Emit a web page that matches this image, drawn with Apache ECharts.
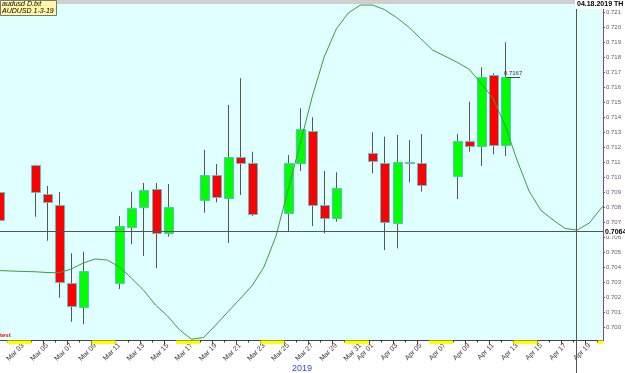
<!DOCTYPE html>
<html>
<head>
<meta charset="utf-8">
<script src="https://cdn.jsdelivr.net/npm/echarts@6/dist/echarts.min.js"></script>
<style>
html, body { margin: 0; padding: 0; background: #fff; }
#main { width: 625px; height: 373px; background: linear-gradient(to bottom, #cfcfcf 0, #cfcfcf 4px, #fff 4px); }
</style>
</head>
<body>
<div id="main"></div>
<script>
// trading days (daily bars)
const dates = ['2019-03-01', '2019-03-04', '2019-03-05', '2019-03-06', '2019-03-07', '2019-03-08',
  '2019-03-11', '2019-03-12', '2019-03-13', '2019-03-14', '2019-03-15',
  '2019-03-18', '2019-03-19', '2019-03-20', '2019-03-21', '2019-03-22',
  '2019-03-25', '2019-03-26', '2019-03-27', '2019-03-28', '2019-03-29',
  '2019-04-01', '2019-04-02', '2019-04-03', '2019-04-04', '2019-04-05',
  '2019-04-08', '2019-04-09', '2019-04-10', '2019-04-11', '2019-04-12']
const openP = [0.70907, 0.71085, 0.70889, 0.70818, 0.70296, 0.70136,
  0.70296, 0.70669, 0.70803, 0.70925, 0.70629,
  0.70849, 0.71018, 0.70863, 0.71136, 0.71096,
  0.70760, 0.71096, 0.71313, 0.70818, 0.70729,
  0.71167, 0.71096, 0.70703, 0.71103, 0.71096,
  0.71011, 0.71245, 0.71211, 0.71685, 0.71218]
const highP = [0.70910, 0.71087, 0.70945, 0.70905, 0.70496, 0.70507,
  0.70745, 0.70907, 0.70965, 0.70965, 0.70958,
  0.71185, 0.71091, 0.71485, 0.71663, 0.71173,
  0.71151, 0.71463, 0.71403, 0.71045, 0.71036,
  0.71303, 0.71273, 0.71285, 0.71251, 0.71291,
  0.71291, 0.71507, 0.71736, 0.71696, 0.71903]
const lowP = [0.70720, 0.70740, 0.70580, 0.70200, 0.70040, 0.70023,
  0.70258, 0.70556, 0.70478, 0.70396, 0.70607,
  0.70767, 0.70836, 0.70565, 0.70885, 0.70745,
  0.70640, 0.71045, 0.70678, 0.70629, 0.70707,
  0.71029, 0.70518, 0.70529, 0.70969, 0.70907,
  0.70858, 0.71173, 0.71078, 0.71156, 0.71145]
const closeP = [0.70723, 0.70903, 0.70833, 0.70303, 0.70143, 0.70376,
  0.70676, 0.70796, 0.70916, 0.70629, 0.70805,
  0.71018, 0.70871, 0.71136, 0.71098, 0.70758,
  0.71096, 0.71325, 0.70823, 0.70729, 0.70929,
  0.71111, 0.70703, 0.71107, 0.71100, 0.70951,
  0.71245, 0.71211, 0.71673, 0.71218, 0.71670]

// cycle line, one value per calendar day from 2019-03-01
const cycleStart = '2019-03-01'
const cycleValues = [0.70381, 0.70378, 0.70375, 0.70373, 0.70368, 0.70366, 0.70391, 0.70431,
  0.70458, 0.70451, 0.70405, 0.70331, 0.70251, 0.70151, 0.70078, 0.69985,
  0.69923, 0.69935, 0.70018, 0.70105, 0.70191, 0.70278, 0.70405, 0.70611,
  0.70918, 0.71225, 0.71538, 0.71805, 0.71991, 0.72098, 0.72151, 0.72151,
  0.72121, 0.72068, 0.72005, 0.71928, 0.71851, 0.71811, 0.71771, 0.71725,
  0.71631, 0.71531, 0.71351, 0.71118, 0.70911, 0.70781, 0.70718, 0.70661,
  0.70651, 0.70698, 0.70798, 0.70885]

// axis labels
const labelDates = ['2019-03-03', '2019-03-05', '2019-03-07', '2019-03-09', '2019-03-11', '2019-03-13',
  '2019-03-15', '2019-03-17', '2019-03-19', '2019-03-21', '2019-03-23', '2019-03-25',
  '2019-03-27', '2019-03-29', '2019-03-31', '2019-04-01', '2019-04-03', '2019-04-05',
  '2019-04-07', '2019-04-09', '2019-04-11', '2019-04-13', '2019-04-15', '2019-04-17', '2019-04-19']
const weekendStarts = ['2019-03-02', '2019-03-09', '2019-03-16', '2019-03-23', '2019-03-30',
  '2019-04-06', '2019-04-13', '2019-04-20']
const yTicks = [0.700, 0.701, 0.702, 0.703, 0.704, 0.705, 0.706, 0.707, 0.708, 0.709, 0.710,
  0.711, 0.712, 0.713, 0.714, 0.715, 0.716, 0.717, 0.718, 0.719, 0.720, 0.721]

const crossDate = '2019-04-18'
const crossPrice = 0.7064

const MONTHS = ['Jan', 'Feb', 'Mar', 'Apr', 'May', 'Jun', 'Jul', 'Aug', 'Sep', 'Oct', 'Nov', 'Dec']
const FONT = 'Liberation Sans, Arial, sans-serif'

const base = (() => { const p = cycleStart.split('-').map(Number); return Date.UTC(p[0], p[1] - 1, p[2]) })()
function dayIndex(s) {
  const p = s.split('-').map(Number)
  return Math.round((Date.UTC(p[0], p[1] - 1, p[2]) - base) / 86400000)
}
function fmtDate(s) {
  const p = s.split('-')
  return MONTHS[+p[1] - 1] + ' ' + p[2]
}

const xMin = 0.095
const xMax = 50.137
const yMin = 0.699147
const yMax = 0.72158

const candleData = dates.map((d, i) => [dayIndex(d), openP[i], closeP[i], lowP[i], highP[i]])
const cycleData = cycleValues.map((v, i) => [i, v])
const labelMap = {}
labelDates.forEach(d => { labelMap[dayIndex(d)] = fmtDate(d) })
const labelVals = labelDates.map(dayIndex)
const redTicks = labelVals.map(v => v - 0.3)
const dayTicks = cycleValues.map((v, i) => i - 0.3)
const lastIdx = dates.length - 1
const lastX = dayIndex(dates[lastIdx])

const chart = echarts.init(document.getElementById('main'))
const option = {
  animation: false,
  textStyle: { fontFamily: FONT },
  title: [
    {
      text: 'audusd D.txt\nAUDUSD 1-3-19', left: 0, top: 0, padding: [1, 3, 1, 2],
      backgroundColor: '#fff8a8', borderColor: '#777', borderWidth: 1,
      textStyle: { fontSize: 7, fontStyle: 'italic', fontWeight: 'normal', lineHeight: 7, color: '#000', fontFamily: FONT }
    },
    {
      text: '04.18.2019 TH', left: 575, top: 0, padding: [1, 2],
      backgroundColor: '#fff',
      textStyle: { fontSize: 7, fontWeight: 'bold', color: '#000', fontFamily: FONT }
    },
    {
      text: '2019', left: 292, top: 364, padding: 0,
      textStyle: { fontSize: 9, fontWeight: 'normal', color: '#2a4ae6', fontFamily: FONT }
    },
    {
      text: 'test', left: 0, top: 332, padding: 0,
      textStyle: { fontSize: 6, fontWeight: 'bold', color: '#ff0000', fontFamily: FONT }
    }
  ],
  grid: [
    { left: 0, top: 4, width: 603, height: 336.5, show: true, backgroundColor: '#e0ffff', borderWidth: 0 },
    { left: 0, top: 340.5, width: 603, height: 3.5 },
    { left: 0, top: 0, width: 603, height: 373 }
  ],
  xAxis: [
    {
      gridIndex: 0, type: 'value', min: xMin, max: xMax, position: 'bottom',
      splitLine: { show: false },
      axisLine: { onZero: false, lineStyle: { color: '#444' } },
      axisTick: { customValues: redTicks, length: 4, lineStyle: { color: '#ff2020' } },
      axisLabel: {
        customValues: labelVals, rotate: 45, fontSize: 7, color: '#333', margin: 4,
        formatter: v => labelMap[Math.round(v)] || ''
      }
    },
    {
      gridIndex: 0, type: 'value', min: xMin, max: xMax, position: 'bottom',
      splitLine: { show: false }, axisLine: { show: false }, axisLabel: { show: false },
      axisTick: { customValues: dayTicks, length: 2, lineStyle: { color: '#333' } }
    },
    { gridIndex: 1, type: 'value', min: xMin, max: xMax, show: false },
    { gridIndex: 2, type: 'value', min: xMin, max: xMax, show: false }
  ],
  yAxis: [
    {
      gridIndex: 0, type: 'value', position: 'right', min: yMin, max: yMax,
      splitLine: { show: false },
      axisLine: { show: true, lineStyle: { color: '#884488' } },
      axisTick: { show: true, customValues: yTicks, length: 2, lineStyle: { color: '#884488' } },
      axisLabel: { customValues: yTicks, fontSize: 6, color: '#705070', margin: 3, formatter: v => v.toFixed(3) }
    },
    { gridIndex: 1, type: 'value', min: 0, max: 1, show: false },
    { gridIndex: 2, type: 'value', min: 0, max: 1, show: false }
  ],
  series: [
    {
      type: 'custom', xAxisIndex: 0, yAxisIndex: 0,
      encode: { x: 0, y: [1, 2, 3, 4] },
      data: candleData,
      renderItem(params, api) {
        const x = api.value(0), o = api.value(1), c = api.value(2), l = api.value(3), h = api.value(4)
        const pO = api.coord([x, o]), pC = api.coord([x, c])
        const pL = api.coord([x, l]), pH = api.coord([x, h])
        const w = Math.round(api.size([0.75, 0])[0])
        const cx = Math.round(pH[0]) + 0.5
        const top = Math.round(Math.min(pO[1], pC[1])) + 0.5
        const hgt = Math.max(1, Math.round(Math.abs(pO[1] - pC[1])))
        const up = c >= o
        return {
          type: 'group',
          children: [
            { type: 'line', shape: { x1: cx, y1: pH[1], x2: cx, y2: pL[1] }, style: { stroke: '#555', lineWidth: 1 } },
            {
              type: 'rect', shape: { x: cx - Math.floor(w / 2), y: top, width: w, height: hgt },
              style: { fill: up ? '#00ff00' : '#ff0000', stroke: '#5cbfc6', lineWidth: 1 }
            }
          ]
        }
      }
    },
    {
      type: 'line', xAxisIndex: 0, yAxisIndex: 0, data: cycleData,
      showSymbol: false, symbol: 'none', z: 4,
      lineStyle: { color: '#3c9c3c', width: 1 }
    },
    {
      type: 'line', xAxisIndex: 0, yAxisIndex: 0, data: [], z: 5,
      markLine: {
        silent: true, symbol: 'none', animation: false,
        data: [
          [
            {
              coord: [xMin, crossPrice],
              lineStyle: { color: '#555', type: 'solid', width: 1 },
              label: {
                position: 'end', distance: 1, formatter: crossPrice.toFixed(4),
                backgroundColor: '#fff', color: '#000', fontWeight: 'bold', fontSize: 7, padding: [1, 1, 0, 1], fontFamily: FONT
              }
            },
            { coord: [xMax, crossPrice] }
          ],
          [
            {
              coord: [lastX + 0.1, closeP[lastIdx]],
              lineStyle: { color: '#444', type: 'solid', width: 1 },
              label: {
                position: 'insideMiddleTop', distance: 1, formatter: closeP[lastIdx].toFixed(4),
                color: '#333', fontSize: 6, fontFamily: FONT
              }
            },
            { coord: [lastX + 1.25, closeP[lastIdx]] }
          ]
        ]
      }
    },
    {
      type: 'line', xAxisIndex: 2, yAxisIndex: 1, data: [], z: -1,
      markArea: {
        silent: true,
        itemStyle: { color: '#ffff00', opacity: 1 },
        data: weekendStarts.map(s => [{ xAxis: dayIndex(s) - 0.3 }, { xAxis: Math.min(dayIndex(s) + 1.7, xMax) }])
      }
    },
    {
      type: 'line', xAxisIndex: 3, yAxisIndex: 2, data: [], z: 3,
      markLine: {
        silent: true, symbol: 'none', animation: false,
        label: { show: false },
        lineStyle: { color: '#555', type: 'solid', width: 1 },
        data: [{ xAxis: dayIndex(crossDate) - 0.1 }]
      }
    }
  ]
}
chart.setOption(option)
</script>
</body>
</html>
